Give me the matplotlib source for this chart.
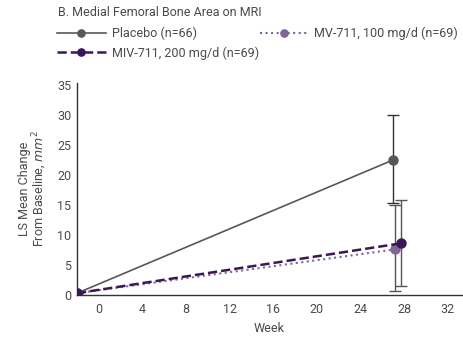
import matplotlib.pyplot as plt

plt.rcParams['font.family'] = ['Roboto', 'DejaVu Sans']

# Data
weeks_placebo = [-2, 27]
placebo = [0.3, 22.5]
placebo_err_lo = [0, 22.5 - 15.4]
placebo_err_hi = [0, 29.9 - 22.5]

weeks_100 = [-2, 27.2]
mv100 = [0.3, 7.6]
mv100_err_lo = [0, 7.6 - 0.6]
mv100_err_hi = [0, 15.05 - 7.6]

weeks_200 = [-2, 27.7]
miv200 = [0.3, 8.6]
miv200_err_lo = [0, 8.6 - 1.5]
miv200_err_hi = [0, 15.9 - 8.6]

xticks = [0, 4, 8, 12, 16, 20, 24, 28, 32]
yticks = [0, 5, 10, 15, 20, 25, 30, 35]

c_placebo = '#55575c'
c_100 = '#7e6696'
c_200 = '#3c1655'
c_text = '#4a4a4a'
fs = 9

fig = plt.figure(figsize=(4.63, 3.41), dpi=100)
ax = fig.add_axes([77 / 463, 1 - 295 / 341, 385 / 463, (295 - 83) / 341])

# error bars (only at the week-27 point)
ax.errorbar(weeks_100, mv100, yerr=[mv100_err_lo, mv100_err_hi], fmt='none',
            ecolor='#555555', elinewidth=1.0, capsize=4, capthick=1.0, zorder=2)
ax.errorbar(weeks_200, miv200, yerr=[miv200_err_lo, miv200_err_hi], fmt='none',
            ecolor='#555555', elinewidth=1.0, capsize=4, capthick=1.0, zorder=2)
ax.errorbar(weeks_placebo, placebo, yerr=[placebo_err_lo, placebo_err_hi], fmt='none',
            ecolor='#333333', elinewidth=1.0, capsize=4, capthick=1.0, zorder=2)

l_placebo, = ax.plot(weeks_placebo, placebo, '-', color=c_placebo, lw=1.2,
                     marker='o', ms=6.5, zorder=3, label='Placebo (n=66)')
l_100, = ax.plot(weeks_100, mv100, ':', color=c_100, lw=1.5,
                 marker='o', ms=6.5, zorder=4, label='MV-711, 100 mg/d (n=69)')
l_200, = ax.plot(weeks_200, miv200, '--', color=c_200, lw=1.8,
                 marker='o', ms=6.5, zorder=5, label='MIV-711, 200 mg/d (n=69)')

ax.set_xlim(-2, 33.3)
ax.set_ylim(0, 35.3)
ax.set_xticks(xticks)
ax.set_yticks(yticks)
ax.tick_params(length=0, labelsize=fs, colors=c_text, pad=4)
ax.tick_params(axis='x', pad=6)
for s in ['top', 'right']:
    ax.spines[s].set_visible(False)
for s in ['left', 'bottom']:
    ax.spines[s].set_color('#333333')
    ax.spines[s].set_linewidth(1.0)

ax.set_xlabel('Week', fontsize=fs, color=c_text, labelpad=4)
ax.set_ylabel('LS Mean Change\nFrom Baseline, $\\it{mm}^2$', fontsize=fs,
              color=c_text, labelpad=6, linespacing=1.0)

fig.text(58 / 463, 1 - 13 / 341, 'B. Medial Femoral Bone Area on MRI',
         fontsize=fs, color=c_text, va='center', ha='left')

leg = fig.legend(handles=[l_placebo, l_200, l_100], loc='upper left',
                 bbox_to_anchor=(53 / 463, 1 - 23 / 341), ncol=2, frameon=False,
                 fontsize=fs, handlelength=3.9, columnspacing=0.05,
                 labelspacing=0.5, handletextpad=0.5, markerscale=0.8,
                 borderaxespad=0, borderpad=0.3)
for t in leg.get_texts():
    t.set_color(c_text)

fig.savefig('out.png', dpi=100)
